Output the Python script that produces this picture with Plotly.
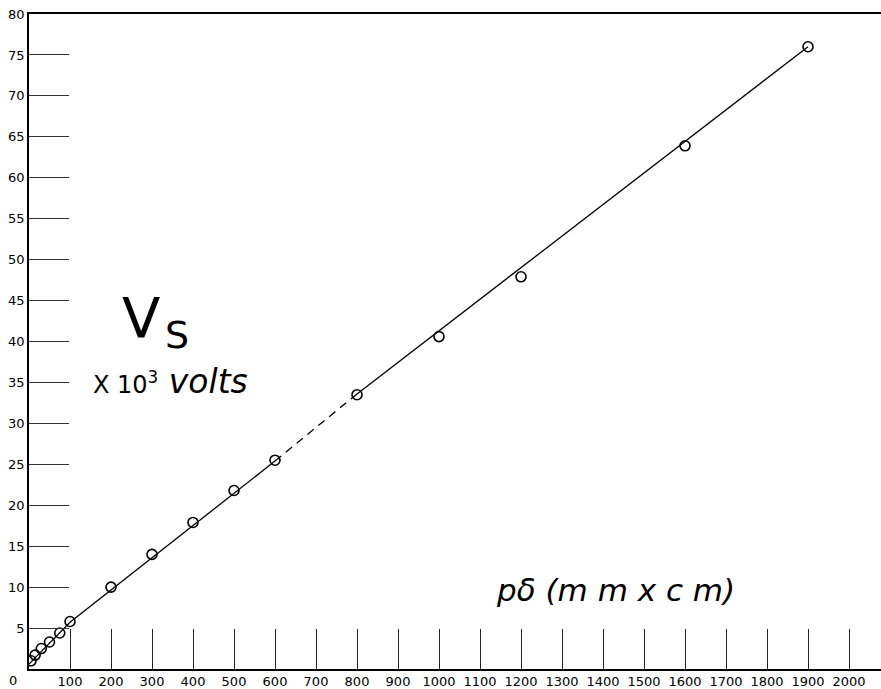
import plotly.graph_objects as go

# ---- data ----
pd_values = [5, 15, 30, 50, 75, 100, 200, 300, 400, 500, 600, 800, 1000, 1200, 1600, 1900]
vs_values = [1.0, 1.7, 2.5, 3.3, 4.4, 5.8, 10.0, 14.0, 17.9, 21.8, 25.5, 33.5, 40.6, 47.9, 63.9, 76.0]

fit_solid_low_x = [0, 100, 600]
fit_solid_low_y = [0.6, 5.7, 25.4]
fit_dashed_x = [600, 800]
fit_dashed_y = [25.4, 33.6]
fit_solid_high_x = [800, 1900]
fit_solid_high_y = [33.6, 76.0]

x_ticks = list(range(0, 2001, 100))
x_tick_labels = [str(v) for v in x_ticks]
y_ticks = list(range(5, 81, 5))
y_tick_labels = [str(v) for v in y_ticks]

FONT = "DejaVu Sans"
LIGHT = "DejaVu Sans ExtraLight, DejaVu Sans"

fig = go.Figure()
line_style = dict(color="black", width=1.3)
fig.add_trace(go.Scatter(x=fit_solid_low_x, y=fit_solid_low_y, mode="lines", line=line_style, hoverinfo="skip"))
fig.add_trace(go.Scatter(x=fit_dashed_x, y=fit_dashed_y, mode="lines",
                         line=dict(color="black", width=1.3, dash="8px,6px"), hoverinfo="skip"))
fig.add_trace(go.Scatter(x=fit_solid_high_x, y=fit_solid_high_y, mode="lines", line=line_style, hoverinfo="skip"))
fig.add_trace(go.Scatter(x=pd_values, y=vs_values, mode="markers",
                         marker=dict(symbol="circle-open", size=10, color="black", line=dict(width=1.6))))

fig.update_layout(
    width=881, height=689,
    margin=dict(l=29, r=0, t=14, b=14),
    plot_bgcolor="white", paper_bgcolor="white",
    showlegend=False,
    font=dict(family=FONT, color="black", size=13),
    xaxis=dict(
        range=[0, 2078], showgrid=False, zeroline=False,
        tickvals=x_ticks[1:], ticktext=x_tick_labels[1:],
        ticks="inside", ticklen=40, tickwidth=1, tickcolor="#222",
        showline=True, linecolor="black", linewidth=1.5, mirror=True,
        tickfont=dict(family=FONT, size=13, color="black"),
    ),
    yaxis=dict(
        range=[0, 80], showgrid=False, zeroline=False,
        tickvals=y_ticks, ticktext=y_tick_labels,
        ticks="inside", ticklen=40, tickwidth=1, tickcolor="#333",
        showline=True, linecolor="black", linewidth=1.5,
        tickfont=dict(family=FONT, size=13, color="black"),
    ),
)

# origin label
fig.add_annotation(x=x_ticks[0], y=0, xref="x", yref="y", text=x_tick_labels[0], showarrow=False,
                   xanchor="right", yanchor="top", xshift=-10, yshift=-2,
                   font=dict(family=FONT, size=13, color="black"))


def px_to_paper(px, py):
    return (px - 29) / (881 - 29), 1 - (py - 14) / (689 - 28)


vx, vy = px_to_paper(141, 320)
fig.add_annotation(x=vx, y=vy, xref="paper", yref="paper", text="V", showarrow=False,
                   xanchor="center", yanchor="middle",
                   font=dict(family=LIGHT, size=56, color="black"))
sx, sy = px_to_paper(177, 338)
fig.add_annotation(x=sx, y=sy, xref="paper", yref="paper", text="S", showarrow=False,
                   xanchor="center", yanchor="middle",
                   font=dict(family=LIGHT, size=38, color="black"))
ux, uy = px_to_paper(170, 385)
fig.add_annotation(x=ux, y=uy, xref="paper", yref="paper",
                   text="<span style='font-size:24px'>X 10<sup>3</sup></span> <i>volts</i>", showarrow=False,
                   xanchor="center", yanchor="middle",
                   font=dict(family=FONT, size=33, color="black"))
px_, py_ = px_to_paper(615, 595)
fig.add_annotation(x=px_, y=py_, xref="paper", yref="paper",
                   text="<i>pδ (m m x c m)</i>", showarrow=False,
                   xanchor="center", yanchor="middle",
                   font=dict(family=FONT, size=31, color="black"))

fig.write_html("out.html")
